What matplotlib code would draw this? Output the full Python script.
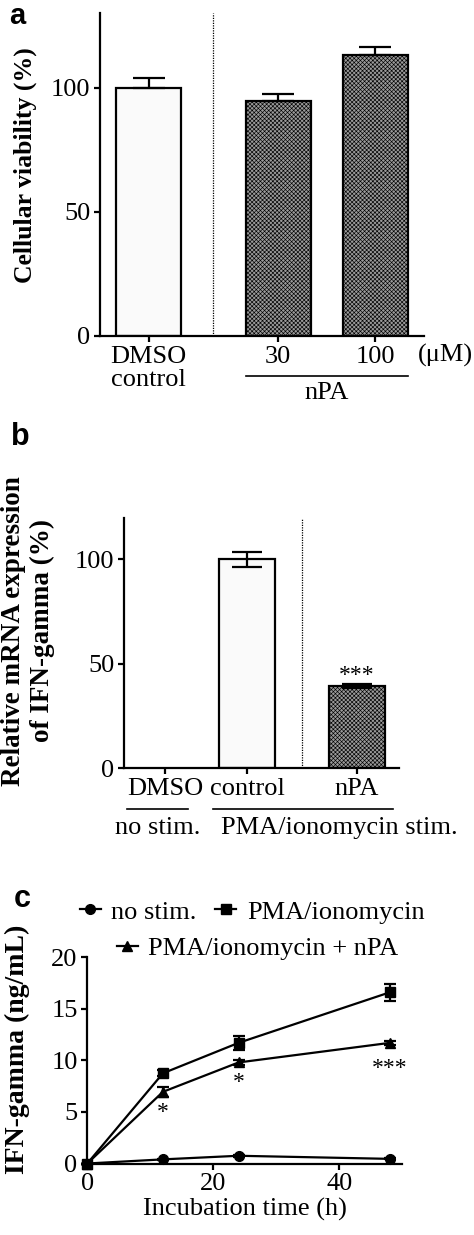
import matplotlib
matplotlib.use("Agg")
import matplotlib.pyplot as plt
import matplotlib.transforms as mtransforms

# ---------------- data ----------------
a_labels = ["DMSO\ncontrol", "30", "100"]
a_values = [100.0, 94.5, 113.0]
a_errors = [4.0, 3.0, 3.5]

b_labels = ["DMSO", "control", "nPA"]
b_values = [0.0, 100.0, 39.4]
b_errors = [0.0, 3.8, 0.8]

c_time = [0, 12, 24, 48]
c_nostim = [0.0, 0.4, 0.75, 0.45]
c_nostim_err = [0.0, 0.05, 0.08, 0.05]
c_pma = [0.0, 8.75, 11.7, 16.6]
c_pma_err = [0.0, 0.3, 0.7, 0.85]
c_npa = [0.0, 6.95, 9.8, 11.7]
c_npa_err = [0.0, 0.5, 0.2, 0.2]
c_star_x = [12, 24, 48]
c_star_y = [4.9, 7.9, 9.2]
c_star_txt = ["*", "*", "***"]

W, H = 474, 1235
plt.rcParams['font.family'] = ['Liberation Serif', 'DejaVu Serif']
plt.rcParams['hatch.color'] = '#4a4a4a'
plt.rcParams['hatch.linewidth'] = 0.45

fig = plt.figure(figsize=(W / 100, H / 100), dpi=100)


def rect(l, r, t, b):
    return [l / W, 1 - b / H, (r - l) / W, (b - t) / H]


def fx(x):
    return x / W


def fy(y):
    return 1 - y / H


FS = 19
LW = 1.6
GRAY = '#9a9a9a'
LIGHT = '#fafafa'
HATCH = 'xxxxxxxx'


def style_axes(ax):
    for s in ['top', 'right']:
        ax.spines[s].set_visible(False)
    for s in ['left', 'bottom']:
        ax.spines[s].set_linewidth(LW)
    ax.tick_params(direction='out', length=4, width=LW, labelsize=FS, pad=3)


# ---------------- panel a ----------------
axa = fig.add_axes(rect(100, 424, 13, 336))
style_axes(axa)
pos_a = [0, 1.335, 2.335]
wa = 0.67
colors_a = [LIGHT, GRAY, GRAY]
hatches_a = [None, HATCH, HATCH]
for p, v, e, c, h in zip(pos_a, a_values, a_errors, colors_a, hatches_a):
    axa.bar(p, v, width=wa, color=c, edgecolor='black', linewidth=LW, hatch=h, zorder=2)
    axa.errorbar(p, v, yerr=[[0], [e]], fmt='none', ecolor='black', elinewidth=LW,
                 capsize=11.5, capthick=LW, zorder=3)
axa.set_xlim(-0.5, 2.84)
axa.set_ylim(0, 130)
axa.set_yticks([0, 50, 100])
axa.set_xticks(pos_a)
axa.set_xticklabels(a_labels, linespacing=1.1)
axa.axvline((pos_a[0] + pos_a[1]) / 2, color='black', linestyle=(0, (1, 1)), lw=0.9)
ta = mtransforms.blended_transform_factory(axa.transData, axa.transAxes)
axa.text(3.06, -0.059, "(\u03bcM)", transform=ta, ha='center', va='center', fontsize=FS, clip_on=False)
x0 = pos_a[1] - wa / 2
x1 = pos_a[2] + wa / 2
axa.plot([x0, x1], [-0.124, -0.124], transform=ta, color='black', lw=1.2, clip_on=False)
axa.text((x0 + x1) / 2, -0.178, "nPA", transform=ta, ha='center', va='center', fontsize=FS, clip_on=False)
fig.text(fx(25), fy(165), "Cellular viability (%)", rotation=90, ha='center', va='center',
         fontsize=18.5, fontweight='bold')
fig.text(fx(17), fy(16), "a", family='Liberation Sans', fontweight='bold', fontsize=21,
         ha='center', va='center')

# ---------------- panel b ----------------
axb = fig.add_axes(rect(124, 399, 517.7, 768.3))
style_axes(axb)
pos_b = [0, 1, 2.34]
wb = 0.68
colors_b = [LIGHT, LIGHT, GRAY]
hatches_b = [None, None, HATCH]
for p, v, e, c, h in zip(pos_b, b_values, b_errors, colors_b, hatches_b):
    if v > 0:
        axb.bar(p, v, width=wb, color=c, edgecolor='black', linewidth=LW, hatch=h, zorder=2)
        axb.errorbar(p, v, yerr=e, fmt='none', ecolor='black', elinewidth=LW,
                     capsize=11, capthick=LW, zorder=3)
axb.set_xlim(-0.5, 2.85)
axb.set_ylim(0, 120)
axb.set_yticks([0, 50, 100])
axb.set_xticks(pos_b)
axb.set_xticklabels(b_labels)
axb.axvline((pos_b[1] + pos_b[2]) / 2, color='black', linestyle=(0, (1, 1)), lw=0.9)
axb.text(pos_b[2], 44.6, "***", ha='center', va='center', fontsize=17)
tb = mtransforms.blended_transform_factory(axb.transData, axb.transAxes)
axb.plot([-0.46, 0.28], [-0.162, -0.162], transform=tb, color='black', lw=1.2, clip_on=False)
axb.plot([0.585, 2.78], [-0.162, -0.162], transform=tb, color='black', lw=1.2, clip_on=False)
axb.text(-0.09, -0.238, "no stim.", transform=tb, ha='center', va='center', fontsize=FS, clip_on=False)
axb.text(2.12, -0.238, "PMA/ionomycin stim.", transform=tb, ha='center', va='center', fontsize=FS,
         clip_on=False)
fig.text(fx(28), fy(631), "Relative mRNA expression\nof IFN-gamma (%)", rotation=90, ha='center',
         va='center', multialignment='center', fontsize=19.5, fontweight='bold', linespacing=1.15)
fig.text(fx(20), fy(437), "b", family='Liberation Sans', fontweight='bold', fontsize=22,
         ha='center', va='center')

# ---------------- panel c ----------------
axc = fig.add_axes(rect(87.3, 402.3, 957.3, 1163.5))
style_axes(axc)
l1 = axc.errorbar(c_time, c_nostim, yerr=c_nostim_err, fmt='-o', color='black', lw=LW, ms=7,
                  capsize=4, capthick=LW, elinewidth=LW, clip_on=False, zorder=3)
l2 = axc.errorbar(c_time, c_pma, yerr=c_pma_err, fmt='-s', color='black', lw=LW, ms=6.5,
                  capsize=4.5, capthick=LW, elinewidth=LW, clip_on=False, zorder=3)
l3 = axc.errorbar(c_time, c_npa, yerr=c_npa_err, fmt='-^', color='black', lw=LW, ms=7.5,
                  capsize=4.5, capthick=LW, elinewidth=LW, clip_on=False, zorder=3)
for xs, ys, t in zip(c_star_x, c_star_y, c_star_txt):
    axc.text(xs, ys, t, ha='center', va='center', fontsize=17)
axc.set_xlim(0, 50)
axc.set_ylim(0, 20)
axc.set_xticks([0, 20, 40])
axc.set_yticks([0, 5, 10, 15, 20])
axc.set_xlabel("Incubation time (h)", fontsize=FS, labelpad=2)
fig.text(fx(17), fy(1049), "IFN-gamma (ng/mL)", rotation=90, ha='center', va='center',
         fontsize=20, fontweight='bold')
fig.text(fx(22), fy(899), "c", family='Liberation Sans', fontweight='bold', fontsize=22,
         ha='center', va='center')

leg1 = axc.legend([l1[0], l2[0]], ["no stim.", "PMA/ionomycin"], ncol=2, loc='center',
                  bbox_to_anchor=(0.523, 1.22), frameon=False, fontsize=FS, handlelength=0.8,
                  handletextpad=0.4, columnspacing=0.7, borderpad=0, borderaxespad=0)
axc.add_artist(leg1)
axc.legend([l3[0]], ["PMA/ionomycin + nPA"], loc='center', bbox_to_anchor=(0.54, 1.045),
           frameon=False, fontsize=FS, handlelength=0.8, handletextpad=0.4, borderpad=0,
           borderaxespad=0)

fig.savefig("out.png", dpi=100)
